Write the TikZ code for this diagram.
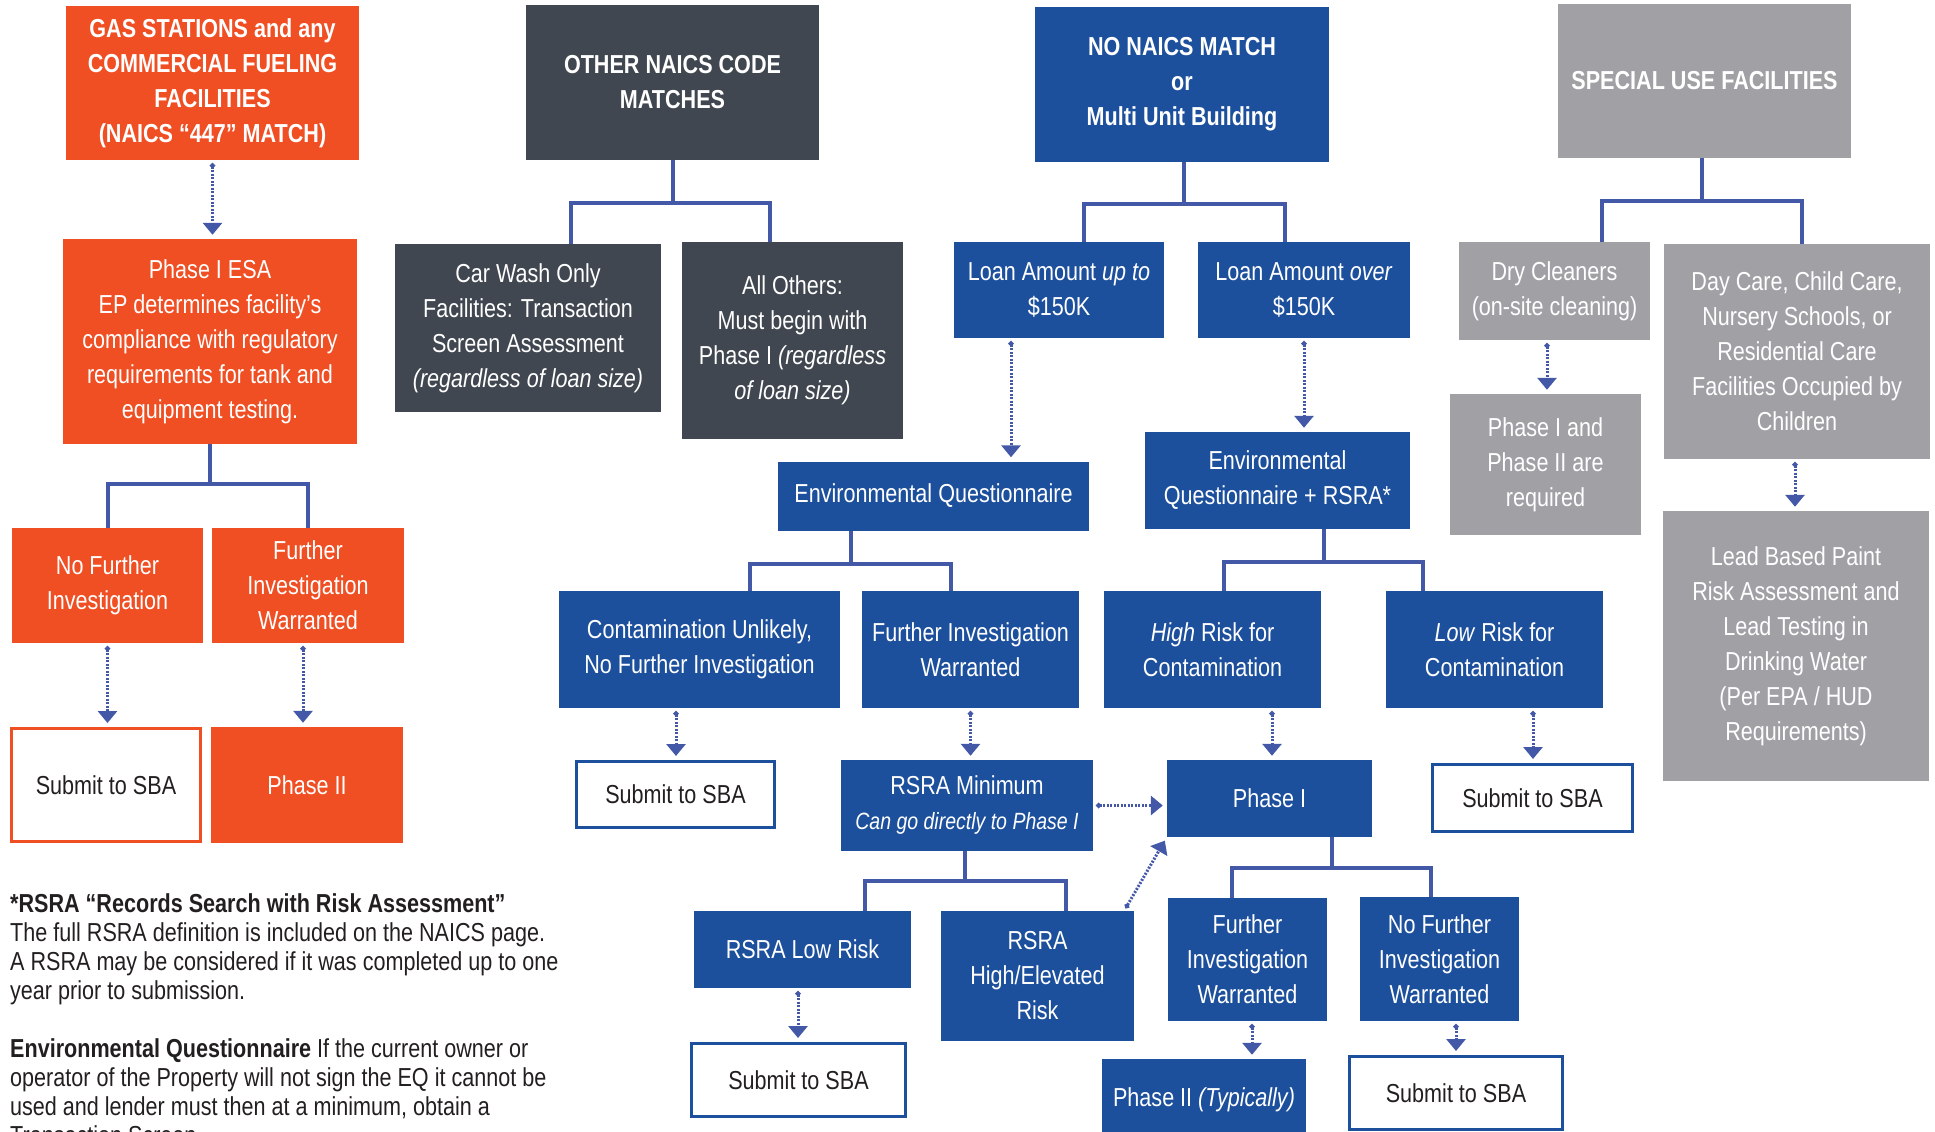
\documentclass[tikz,border=0pt]{standalone}
\usepackage{fontspec}
\setmainfont[FakeStretch=0.83]{Liberation Sans}
\usepackage{xcolor}
\usepackage{tikz}
\usetikzlibrary{shapes,arrows,arrows.meta,positioning,fit,calc}

\definecolor{sbaorange}{HTML}{F04E23}
\definecolor{sbadark}{HTML}{414750}
\definecolor{sbablue}{HTML}{1C4F9C}
\definecolor{sbagrey}{HTML}{A1A0A5}
\definecolor{linkblue}{HTML}{4458A8}
\definecolor{textdark}{HTML}{231F20}

\begin{document}
\begin{tikzpicture}[
    x=1pt, y=-1pt,
    box/.style={rectangle, inner sep=0pt, align=center, text=white, font=\fontsize{26}{35}\selectfont},
    orangebox/.style={box, fill=sbaorange},
    darkbox/.style={box, fill=sbadark},
    bluebox/.style={box, fill=sbablue},
    greybox/.style={box, fill=sbagrey},
    header/.style={font=\fontsize{26}{35}\selectfont\bfseries},
    sbabox/.style={box, fill=white, draw=sbablue, line width=3pt, text=textdark},
    wh/.style 2 args={minimum width=#1pt, minimum height=#2pt},
    tree/.style={draw=linkblue, line width=4pt},
    flow/.style={draw=linkblue, line width=3pt, dash pattern=on 2pt off 1.5pt, {Circle[length=5pt]}-{Triangle[width=19pt,length=12pt]}, shorten <=3pt, shorten >=4pt}
]
    \fill[white] (0,0) rectangle (1935,1132);
    \useasboundingbox (0,0) rectangle (1935,1132);

    % Headers
    \node[orangebox, header, wh={293}{154}] (gas) at (212.5,83) {GAS STATIONS and any\\COMMERCIAL FUELING\\FACILITIES\\(NAICS “447” MATCH)};
    \node[darkbox, header, wh={293}{155}] (other) at (672.5,82.5) {OTHER NAICS CODE\\MATCHES};
    \node[bluebox, header, wh={294}{155}] (nonaics) at (1182,84.5) {NO NAICS MATCH\\or\\Multi Unit Building};
    \node[greybox, header, wh={293}{154}] (special) at (1704.5,81) {SPECIAL USE FACILITIES};

    % Gas station path
    \node[orangebox, wh={294}{205}] (esa) at (210,341.5) {Phase I ESA\\EP determines facility’s\\compliance with regulatory\\requirements for tank and\\equipment testing.};
    \node[orangebox, wh={191}{115}] (nofurther) at (107.5,585.5) {No Further\\Investigation};
    \node[orangebox, wh={192}{115}] (furtherinv) at (308,585.5) {Further\\Investigation\\Warranted};
    \node[sbabox, draw=sbaorange, wh={189}{113}] (submitA) at (106,785) {Submit to SBA};
    \node[orangebox, wh={192}{116}] (phase2A) at (307,785) {Phase II};

    % Other NAICS path
    \node[darkbox, wh={266}{168}] (carwash) at (528,328) {Car Wash Only\\Facilities: Transaction\\Screen Assessment\\\textit{(regardless of loan size)}};
    \node[darkbox, wh={221}{197}] (allothers) at (792.5,340.5) {All Others:\\Must begin with\\Phase I \textit{(regardless}\\\textit{of loan size)}};

    % No NAICS match path
    \node[bluebox, wh={210}{96}] (loanup) at (1059,290) {Loan Amount \textit{up to}\\\$150K};
    \node[bluebox, wh={212}{96}] (loanover) at (1304,290) {Loan Amount \textit{over}\\\$150K};
    \node[bluebox, wh={311}{69}] (envq) at (933.5,496) {Environmental Questionnaire};
    \node[bluebox, wh={265}{97}] (envqrsra) at (1277.5,480.5) {Environmental\\Questionnaire + RSRA*};
    \node[bluebox, wh={281}{117}] (contam) at (699.5,649.5) {Contamination Unlikely,\\No Further Investigation};
    \node[bluebox, wh={217}{117}] (fiw) at (970.5,649.5) {Further Investigation\\Warranted};
    \node[bluebox, wh={217}{117}] (highrisk) at (1212.5,649.5) {\textit{High} Risk for\\Contamination};
    \node[bluebox, wh={217}{117}] (lowrisk) at (1494.5,649.5) {\textit{Low} Risk for\\Contamination};
    \node[sbabox, wh={198}{66}] (submitB) at (675.5,794.5) {Submit to SBA};
    \node[bluebox, wh={252}{91}] (rsramin) at (967,805.5) {RSRA Minimum\\{\fontsize{23.5}{35}\selectfont\textit{Can go directly to Phase I}}};
    \node[bluebox, wh={205}{77}] (phase1) at (1269.5,798.5) {Phase I};
    \node[sbabox, wh={200}{67}] (submitC) at (1532.5,798) {Submit to SBA};
    \node[bluebox, wh={217}{77}] (rsralow) at (802.5,949.5) {RSRA Low Risk};
    \node[bluebox, wh={193}{130}] (rsrahigh) at (1037.5,976) {RSRA\\High/Elevated\\Risk};
    \node[bluebox, wh={159}{123}] (fiw2) at (1247.5,959.5) {Further\\Investigation\\Warranted};
    \node[bluebox, wh={159}{124}] (nfi2) at (1439.5,959) {No Further\\Investigation\\Warranted};
    \node[sbabox, wh={214}{73}] (submitD) at (798.5,1080) {Submit to SBA};
    \node[bluebox, wh={204}{82}] (phase2typ) at (1204,1100) {Phase II \textit{(Typically)}};
    \node[sbabox, wh={213}{73}] (submitE) at (1456,1093) {Submit to SBA};

    % Special use path
    \node[greybox, wh={191}{98}] (dry) at (1554.5,291) {Dry Cleaners\\(on-site cleaning)};
    \node[greybox, wh={266}{215}] (daycare) at (1797,351.5) {Day Care, Child Care,\\Nursery Schools, or\\Residential Care\\Facilities Occupied by\\Children};
    \node[greybox, wh={191}{141}] (phase12) at (1545.5,464.5) {Phase I and\\Phase II are\\required};
    \node[greybox, wh={266}{270}] (lead) at (1796,646) {Lead Based Paint\\Risk Assessment and\\Lead Testing in\\Drinking Water\\(Per EPA / HUD\\Requirements)};

    % Notes
    \node[anchor=north west, align=left, inner sep=0pt, text=textdark, font=\fontsize{26}{29}\selectfont] (notes) at (10,893) {\textbf{*RSRA “Records Search with Risk Assessment”}\\The full RSRA definition is included on the NAICS page.\\A RSRA may be considered if it was completed up to one\\year prior to submission.\\[29pt]\textbf{Environmental Questionnaire} If the current owner or\\operator of the Property will not sign the EQ it cannot be\\used and lender must then at a minimum, obtain a\\Transaction Screen.};

    % Tree connectors
    \draw[tree] (esa.south) -- ++(0,40) coordinate (esaSplit);
    \draw[tree] (nofurther.north) |- (esaSplit) -| (furtherinv.north);

    \draw[tree] (other.south) -- ++(0,43) coordinate (otherSplit);
    \draw[tree] ([xshift=43pt]carwash.north) |- (otherSplit) -| ([xshift=-22.5pt]allothers.north);

    \draw[tree] ([xshift=2pt]nonaics.south) -- ++(0,42) coordinate (noSplit);
    \draw[tree] ([xshift=25pt]loanup.north) |- (noSplit) -| ([xshift=-19pt]loanover.north);

    \draw[tree] ([xshift=-2.5pt]special.south) -- ++(0,43) coordinate (specialSplit);
    \draw[tree] ([xshift=47.5pt]dry.north) |- (specialSplit) -| ([xshift=5pt]daycare.north);

    \draw[tree] ([xshift=-82.5pt]envq.south) -- ++(0,33) coordinate (envqSplit);
    \draw[tree] ([xshift=50.5pt]contam.north) |- (envqSplit) -| ([xshift=-19.5pt]fiw.north);

    \draw[tree] ([xshift=46.5pt]envqrsra.south) -- ++(0,33) coordinate (rsraSplit);
    \draw[tree] ([xshift=11.5pt]highrisk.north) |- (rsraSplit) -| ([xshift=-71.5pt]lowrisk.north);

    \draw[tree] ([xshift=-2pt]rsramin.south) -- ++(0,30) coordinate (minSplit);
    \draw[tree] ([xshift=62.5pt]rsralow.north) |- (minSplit) -| ([xshift=28.5pt]rsrahigh.north);

    \draw[tree] ([xshift=62.5pt]phase1.south) -- ++(0,31) coordinate (phaseSplit);
    \draw[tree] ([xshift=-15.5pt]fiw2.north) |- (phaseSplit) -| ([xshift=-8.5pt]nfi2.north);

    % Dotted arrows
    \draw[flow] (gas.south) -- (gas.south |- esa.north);
    \draw[flow] (nofurther.south) -- (nofurther.south |- submitA.north);
    \draw[flow] ([xshift=-5pt]furtherinv.south) -- ([xshift=-5pt]furtherinv.south |- phase2A.north);
    \draw[flow] ([xshift=-48pt]loanup.south) -- ([xshift=-48pt]loanup.south |- envq.north);
    \draw[flow] (loanover.south) -- (loanover.south |- envqrsra.north);
    \draw[flow] ([xshift=-23.5pt]contam.south) -- ([xshift=-23.5pt]contam.south |- submitB.north);
    \draw[flow] (fiw.south) -- (fiw.south |- rsramin.north);
    \draw[flow] ([xshift=59.5pt]highrisk.south) -- ([xshift=59.5pt]highrisk.south |- phase1.north);
    \draw[flow] ([xshift=38.5pt]lowrisk.south) -- ([xshift=38.5pt]lowrisk.south |- submitC.north);
    \draw[flow] (rsramin.east) -- (rsramin.east -| phase1.west);
    \draw[flow] ([xshift=-10pt]rsrahigh.north east) -- (phase1.south west);
    \draw[flow] ([xshift=-4.5pt]rsralow.south) -- ([xshift=-4.5pt]rsralow.south |- submitD.north);
    \draw[flow] ([xshift=4.5pt]fiw2.south) -- ([xshift=4.5pt]fiw2.south |- phase2typ.north);
    \draw[flow] ([xshift=16.5pt]nfi2.south) -- ([xshift=16.5pt]nfi2.south |- submitE.north);
    \draw[flow] ([xshift=-7.5pt]dry.south) -- ([xshift=-7.5pt]dry.south |- phase12.north);
    \draw[flow] ([xshift=-2pt]daycare.south) -- ([xshift=-2pt]daycare.south |- lead.north);
\end{tikzpicture}
\end{document}
